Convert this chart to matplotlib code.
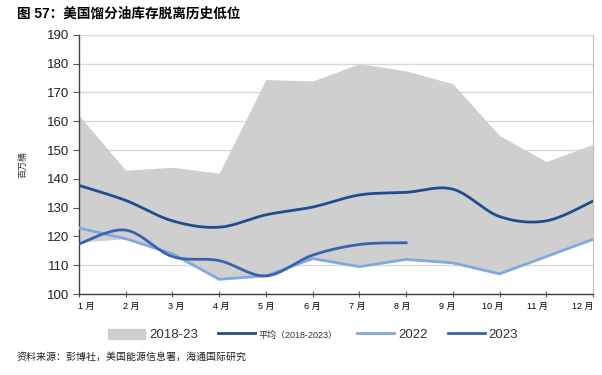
import numpy as np
import matplotlib
matplotlib.use("Agg")
import matplotlib.pyplot as plt
from matplotlib.patches import Patch
from matplotlib.lines import Line2D

plt.rcParams['font.family'] = ['Liberation Sans', 'Noto Sans CJK SC', 'DejaVu Sans']

# data (million barrels)
months = [1, 2, 3, 4, 5, 6, 7, 8, 9, 10, 11, 12]
month_labels = [f"{m} 月" for m in months]
band_high = [162, 143, 144, 142, 174.5, 174, 180, 177.5, 173, 155, 146, 152]
band_low = [118, 119.2, 114, 105, 106.3, 112.3, 109.5, 112, 110.8, 107, 113, 119]
avg_1823 = [137.7, 132.5, 125.4, 123.2, 127.5, 130.2, 134.4, 135.3, 136.4, 126.9, 125.4, 132.3]
y2022 = [122.9, 119.2, 114, 105.1, 106.3, 112.3, 109.5, 112, 110.8, 107, 113, 119]
months_2023 = [1, 2, 3, 4, 5, 6, 7, 8]
y2023 = [117.4, 122.2, 113, 111.6, 106.3, 113.5, 117.2, 117.8]

c_band = '#d0cfd0'
c_avg = '#1f4e8c'
c_2022 = '#82a8de'
c_2023 = '#3a62b0'


# smoothed line like the spreadsheet "smooth line" option
def smooth(xs, ys, n=30):
    xs = np.asarray(xs, float)
    ys = np.asarray(ys, float)
    px, py = [], []
    k = len(xs)
    for i in range(k - 1):
        i0 = max(i - 1, 0)
        i3 = min(i + 2, k - 1)
        p0 = np.array([xs[i], ys[i]])
        p3 = np.array([xs[i + 1], ys[i + 1]])
        c1 = p0 + (p3 - np.array([xs[i0], ys[i0]])) / 6
        c2 = p3 - (np.array([xs[i3], ys[i3]]) - p0) / 6
        t = np.linspace(0, 1, n)[:, None]
        pts = (1 - t) ** 3 * p0 + 3 * (1 - t) ** 2 * t * c1 + 3 * (1 - t) * t ** 2 * c2 + t ** 3 * p3
        px.extend(pts[:, 0])
        py.extend(pts[:, 1])
    return px, py


fig = plt.figure(figsize=(6.02, 3.75), dpi=100)
ax = fig.add_axes([0.1312, 0.216, 0.854, 0.691])

ax.fill_between(months, band_low, band_high, color=c_band, lw=0, zorder=2)
ax.plot(*smooth(months, avg_1823), color=c_avg, lw=2, zorder=4)
ax.plot(months, y2022, color=c_2022, lw=2, zorder=3)
ax.plot(*smooth(months_2023, y2023), color=c_2023, lw=2, zorder=5)

ax.set_xlim(1, 12)
ax.set_ylim(100, 190)
ax.set_yticks(range(100, 191, 10))
# tick marks on the months, labels spread a little narrower (as in the source chart)
ax.set_xticks(months)
ax.set_xticklabels([])
ax.set_xticks(np.linspace(1.15, 11.78, 12), minor=True)
ax.set_xticklabels(month_labels, minor=True, fontsize=6.5)
ax.tick_params(axis='y', labelsize=9.5, labelcolor='#222222', direction='out', length=4, width=0.8,
               color='#555555', pad=3)
ax.tick_params(axis='x', which='major', direction='inout', length=5, width=0.8, color='#555555')
ax.tick_params(axis='x', which='minor', length=0, pad=6)
ax.grid(axis='y', color='#d9d9d9', lw=1, zorder=0)
ax.set_axisbelow(True)
for s in ['left', 'bottom']:
    ax.spines[s].set_color('#404040')
    ax.spines[s].set_linewidth(1)
ax.spines['top'].set_visible(False)
ax.spines['right'].set_color('#bfbfbf')
ax.set_ylabel('百万桶', fontsize=6.5, labelpad=14, color='#333333')

fig.text(0.028, 0.965, '图 57：美国馏分油库存脱离历史低位', fontsize=9.8, fontweight='bold', va='center')
fig.text(0.028, 0.048, '资料来源：彭博社，美国能源信息署，海通国际研究', fontsize=7.2, va='center', color='#222222')

handles = [Patch(color=c_band),
           Line2D([], [], color=c_avg, lw=2),
           Line2D([], [], color=c_2022, lw=2),
           Line2D([], [], color=c_2023, lw=2)]
labels = ['2018-23', '平均（2018-2023）', '2022', '2023']
leg = fig.legend(handles, labels, loc='center', bbox_to_anchor=(0.52, 0.107), ncol=4, frameon=False,
                 fontsize=9.5, handlelength=2.8, handleheight=0.8, columnspacing=1.5, handletextpad=0.3)
leg.get_texts()[1].set_fontsize(6.5)
for t in leg.get_texts():
    t.set_color('#333333')

fig.savefig('out.png', dpi=100)
